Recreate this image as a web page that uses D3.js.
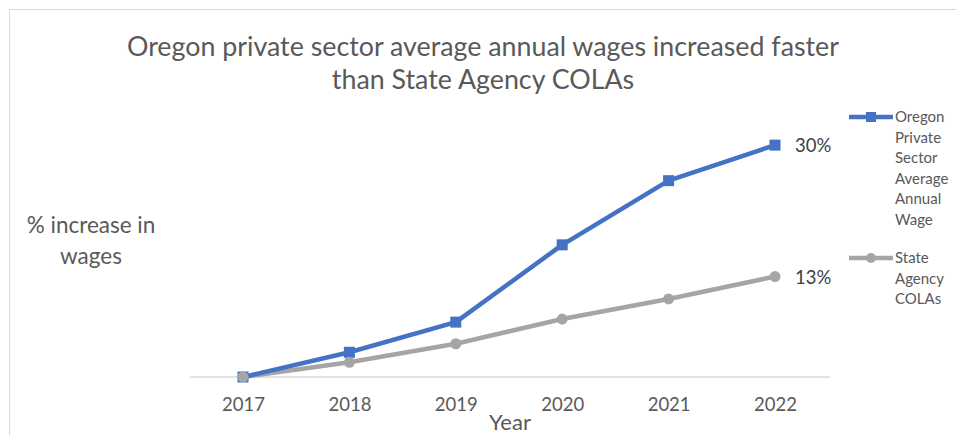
<!DOCTYPE html>
<html>
<head>
<meta charset="utf-8">
<script src="https://cdn.jsdelivr.net/npm/d3@7"></script>
<style>
  html, body { margin: 0; padding: 0; background: #fff; }
  svg { display: block; }
  text { font-family: Lato, "Open Sans", sans-serif; }
</style>
</head>
<body>
<svg id="chart" width="956" height="435"></svg>
<script>
// Cumulative % increase in wages since 2017
const years = ["2017", "2018", "2019", "2020", "2021", "2022"];
const privateWage = [0, 3.2, 7.1, 17.1, 25.4, 30];
const stateCola = [0, 1.9, 4.3, 7.5, 10.1, 13];
const endLabels = ["30%", "13%"];
const seriesNames = [
  ["Oregon", "Private", "Sector", "Average", "Annual", "Wage"],
  ["State", "Agency", "COLAs"]
];
const titleLines = [
  "Oregon private sector average annual wages increased faster",
  "than State Agency COLAs"
];
const yLabelLines = ["% increase in", "wages"];

const svg = d3.select("#chart");
const textColor = "#595959";
const blue = "#4472C4";
const grey = "#A5A5A5";

// chart frame
svg.append("path")
  .attr("d", "M9.5,435 V9.5 H956")
  .attr("fill", "none")
  .attr("stroke", "#d9d9d9")
  .attr("stroke-width", 1);

// title
svg.append("g").selectAll("text")
  .data(titleLines).join("text")
  .attr("x", 483)
  .attr("y", (d, i) => 56 + i * 33)
  .attr("text-anchor", "middle")
  .attr("font-size", 26.8)
  .attr("fill", textColor)
  .text(d => d);

const x = d3.scalePoint().domain(years).range([243, 775]);
const y = d3.scaleLinear().domain([0, 33.25]).range([377, 120]);

// horizontal axis line and year labels
const xAxis = d3.axisBottom(x).tickSize(0).tickPadding(0);
const gx = svg.append("g").attr("transform", `translate(0,${y(0)})`).call(xAxis);
gx.select(".domain").remove();
gx.append("line")
  .attr("x1", 190).attr("x2", 830)
  .attr("stroke", "#d9d9d9").attr("stroke-width", 1.5);
gx.selectAll(".tick text")
  .attr("dy", 0)
  .attr("y", 34)
  .attr("font-size", 18.5)
  .attr("font-family", "Lato, 'Open Sans', sans-serif")
  .attr("fill", textColor);

// axis titles
svg.append("text")
  .attr("x", 510).attr("y", 430)
  .attr("text-anchor", "middle")
  .attr("font-size", 22)
  .attr("fill", textColor)
  .text("Year");

svg.append("g").selectAll("text")
  .data(yLabelLines).join("text")
  .attr("x", 91)
  .attr("y", (d, i) => 233 + i * 31)
  .attr("text-anchor", "middle")
  .attr("font-size", 22.5)
  .attr("fill", textColor)
  .text(d => d);

const line = d3.line().x((d, i) => x(years[i])).y(d => y(d));

// State Agency COLAs (drawn first, underneath)
svg.append("path")
  .datum(stateCola)
  .attr("d", line)
  .attr("fill", "none")
  .attr("stroke", grey)
  .attr("stroke-width", 4.5)
  .attr("stroke-linejoin", "round");

// Oregon private sector wages
svg.append("path")
  .datum(privateWage)
  .attr("d", line)
  .attr("fill", "none")
  .attr("stroke", blue)
  .attr("stroke-width", 4.5)
  .attr("stroke-linejoin", "round");

svg.append("g").selectAll("rect")
  .data(privateWage).join("rect")
  .attr("x", (d, i) => x(years[i]) - 5.5)
  .attr("y", d => y(d) - 5.5)
  .attr("width", 11).attr("height", 11)
  .attr("fill", blue);

svg.append("g").selectAll("circle")
  .data(stateCola).join("circle")
  .attr("cx", (d, i) => x(years[i]))
  .attr("cy", d => y(d))
  .attr("r", 5.5)
  .attr("fill", grey);

// end-of-line value labels
const lastVals = [privateWage[privateWage.length - 1], stateCola[stateCola.length - 1]];
svg.append("g").selectAll("text")
  .data(lastVals).join("text")
  .attr("x", x(years[years.length - 1]) + 20)
  .attr("y", d => y(d) + 7)
  .attr("font-size", 18.5)
  .attr("fill", "#404040")
  .text((d, i) => endLabels[i]);

// legend
const legendTops = [117, 258];
const legendColors = [blue, grey];
seriesNames.forEach((lines, k) => {
  const g = svg.append("g");
  const ly = legendTops[k];
  g.append("line")
    .attr("x1", 849).attr("x2", 893)
    .attr("y1", ly).attr("y2", ly)
    .attr("stroke", legendColors[k]).attr("stroke-width", 4.5);
  if (k === 0) {
    g.append("rect").attr("x", 866).attr("y", ly - 5).attr("width", 10).attr("height", 10).attr("fill", blue);
  } else {
    g.append("circle").attr("cx", 871).attr("cy", ly).attr("r", 5).attr("fill", grey);
  }
  g.selectAll("text")
    .data(lines).join("text")
    .attr("x", 895)
    .attr("y", (d, i) => ly + 5 + i * 20.6)
    .attr("font-size", 15)
    .attr("fill", textColor)
    .text(d => d);
});
</script>
</body>
</html>
